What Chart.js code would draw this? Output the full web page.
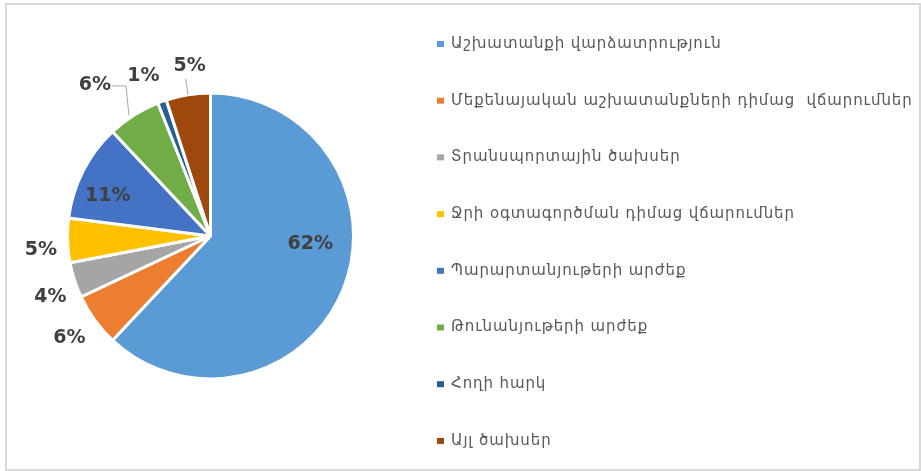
<!DOCTYPE html>
<html>
<head>
<meta charset="utf-8">
<script src="https://cdn.jsdelivr.net/npm/chart.js@4.4.1/dist/chart.umd.min.js"></script>
<style>
  html, body { margin: 0; padding: 0; background: #fff; }
  #wrap { position: relative; width: 921px; height: 471px; }
  #frame { position: absolute; left: 5px; top: 3px; width: 912px; height: 464px; border: 2px solid #d9d9d9; }
  canvas { position: absolute; left: 0; top: 0; }
</style>
</head>
<body>
<div id="wrap">
  <div id="frame"></div>
  <canvas id="pie" width="921" height="471"></canvas>
</div>
<script>
// data
const categories = [
  'Աշխատանքի վարձատրություն',
  'Մեքենայական աշխատանքների դիմաց  վճարումներ',
  'Տրանսպորտային ծախսեր',
  'Ջրի օգտագործման դիմաց վճարումներ',
  'Պարարտանյութերի արժեք',
  'Թունանյութերի արժեք',
  'Հողի հարկ',
  'Այլ ծախսեր'
];
const shares = [62, 6, 4, 5, 11, 6, 1, 5];
const sliceColors = ['#5B9BD5', '#ED7D31', '#A5A5A5', '#FFC000', '#4472C4', '#70AD47', '#255E91', '#9E480E'];

// label placement: distance from centre (fraction of radius), angle shift (deg)
const labelDist = [0.70, 1.22, 1.20, 1.19, 0.77, 1.33, 1.21, 1.20];
const labelShift = [-17, 0, -3, -3, -6, -5, -3, 2];
const leaders = [null, null, null, null, null, 'elbow', null, 'radial'];

// percent labels
const pctLabels = {
  id: 'pctLabels',
  afterDatasetsDraw(chart) {
    const ctx = chart.ctx;
    const meta = chart.getDatasetMeta(0);
    const total = shares.reduce((a, b) => a + b, 0);
    ctx.save();
    ctx.font = 'bold 19px "DejaVu Sans"';
    ctx.fillStyle = '#404040';
    ctx.textAlign = 'center';
    ctx.textBaseline = 'middle';
    meta.data.forEach((arc, i) => {
      const p = arc.getProps(['x', 'y', 'startAngle', 'endAngle', 'outerRadius'], true);
      const mid = (p.startAngle + p.endAngle) / 2;
      const a = mid + labelShift[i] * Math.PI / 180;
      const lx = p.x + Math.cos(a) * p.outerRadius * labelDist[i];
      const ly = p.y + Math.sin(a) * p.outerRadius * labelDist[i];
      const txt = Math.round(shares[i] / total * 100) + '%';
      ctx.fillText(txt, lx, ly);

      if (leaders[i]) {
        const ex = p.x + Math.cos(mid) * p.outerRadius;
        const ey = p.y + Math.sin(mid) * p.outerRadius;
        ctx.strokeStyle = '#a6a6a6';
        ctx.lineWidth = 1;
        ctx.beginPath();
        if (leaders[i] === 'elbow') {
          const w = ctx.measureText(txt).width;
          ctx.moveTo(ex - 5, ey);
          ctx.lineTo(lx + w / 2 + 15, ly + 1);
          ctx.lineTo(lx + w / 2 + 1, ly + 1);
        } else {
          const r2 = p.outerRadius + 16;
          ctx.moveTo(ex, ey);
          ctx.lineTo(p.x + Math.cos(mid) * r2, p.y + Math.sin(mid) * r2);
        }
        ctx.stroke();
      }
    });
    ctx.restore();
  }
};

// legend at the right, drawn by hand for the tall row spacing
const sideLegend = {
  id: 'sideLegend',
  afterDraw(chart) {
    const ctx = chart.ctx;
    const colors = chart.data.datasets[0].backgroundColor;
    ctx.save();
    ctx.font = '15px "DejaVu Sans"';
    ctx.fillStyle = '#595959';
    ctx.textBaseline = 'middle';
    ctx.letterSpacing = '0.9px';
    chart.data.labels.forEach((lbl, i) => {
      const y = 44 + i * 56.7;
      ctx.fillStyle = colors[i];
      ctx.fillRect(437, y - 3, 7, 6);
      ctx.fillStyle = '#595959';
      ctx.fillText(lbl, 451, y);
    });
    ctx.restore();
  }
};

new Chart(document.getElementById('pie'), {
  type: 'pie',
  data: {
    labels: categories,
    datasets: [{
      data: shares,
      backgroundColor: sliceColors,
      borderColor: '#ffffff',
      borderWidth: 3
    }]
  },
  options: {
    responsive: false,
    animation: false,
    rotation: 0,
    layout: { padding: { left: 66, top: 91, right: 566, bottom: 90 } },
    plugins: {
      legend: { display: false },
      tooltip: { enabled: false }
    }
  },
  plugins: [pctLabels, sideLegend]
});
</script>
</body>
</html>
